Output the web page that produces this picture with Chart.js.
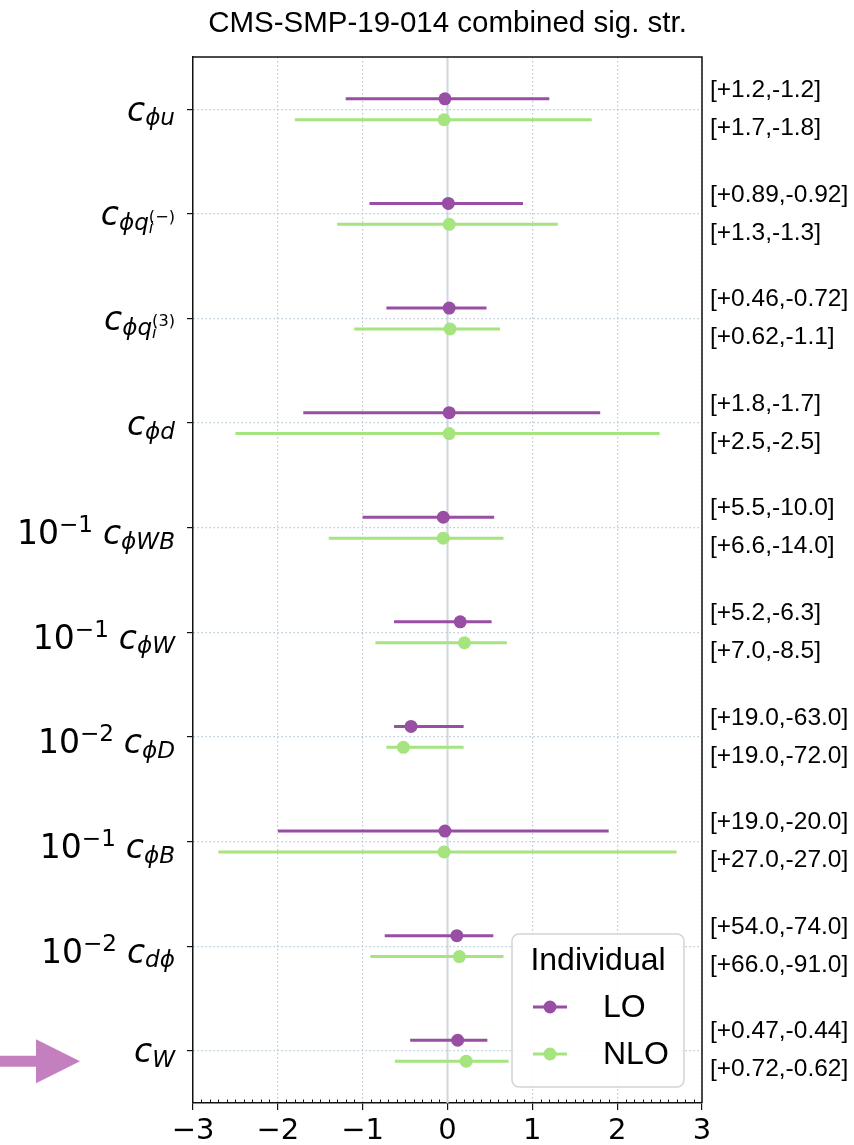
<!DOCTYPE html>
<html>
<head>
<meta charset="utf-8">
<script src="https://cdn.jsdelivr.net/npm/chart.js@4.4.1/dist/chart.umd.min.js"></script>
<style>
  html, body { margin: 0; padding: 0; background: #fff; }
  canvas { display: block; }
</style>
</head>
<body>
<canvas id="chart" width="854" height="1145"></canvas>
<script>
// ---- data -------------------------------------------------------------
const chartTitle = 'CMS-SMP-19-014 combined sig. str.';
const coefficients = ['c_{ϕu}', 'c_{ϕq_i^{(−)}}', 'c_{ϕq_i^{(3)}}', 'c_{ϕd}', 'c_{ϕWB}',
                      'c_{ϕW}', 'c_{ϕD}', 'c_{ϕB}', 'c_{dϕ}', 'c_{W}'];
const powers = [0, 0, 0, 0, -1, -1, -2, -1, -2, 0];
const xTicks = [-3, -2, -1, 0, 1, 2, 3];

const seriesNames = ['LO', 'NLO'];
const loBest  = [-0.03, 0.01, 0.02, 0.02, -0.05, 0.15, -0.43, -0.03, 0.11, 0.12];
const loUp    = [1.2, 0.89, 0.46, 1.8, 5.5, 5.2, 19.0, 19.0, 54.0, 0.47];
const loDown  = [1.2, 0.92, 0.72, 1.7, 10.0, 6.3, 63.0, 20.0, 74.0, 0.44];
const nloBest = [-0.04, 0.02, 0.03, 0.02, -0.05, 0.20, -0.52, -0.04, 0.14, 0.22];
const nloUp   = [1.7, 1.3, 0.62, 2.5, 6.6, 7.0, 19.0, 27.0, 66.0, 0.72];
const nloDown = [1.8, 1.3, 1.1, 2.5, 14.0, 8.5, 72.0, 27.0, 91.0, 0.62];

// ---- styling ----------------------------------------------------------
const series = [
  { name: seriesNames[0], best: loBest,  up: loUp,  down: loDown,  color: '#984ea3', shift: -0.1 },
  { name: seriesNames[1], best: nloBest, up: nloUp, down: nloDown, color: '#a5e47f', shift:  0.1 }
];
const GRID = '#b9c9d3';
const SANS = '"Liberation Sans", Arial, Helvetica, sans-serif';
const MATH = '"DejaVu Sans"';

const rowLabel = i => (powers[i] ? '10^{−' + (-powers[i]) + '} ' : '') + coefficients[i];
const fmtNum = v => Number.isInteger(v) ? v.toFixed(1) : String(v);
const fmtTick = v => v < 0 ? '\u2212' + Math.abs(v) : String(v);

// ---- datasets ---------------------------------------------------------
const datasets = [];
datasets.push({
  type: 'line', data: [{ x: 0, y: -0.5 }, { x: 0, y: coefficients.length - 0.5 }],
  borderColor: '#cdd8e0', borderWidth: 2, pointRadius: 0, order: 20
});
series.forEach(s => {
  coefficients.forEach((_, i) => {
    const f = Math.pow(10, powers[i]);
    datasets.push({
      type: 'line',
      data: [{ x: -s.down[i] * f, y: i + s.shift }, { x: s.up[i] * f, y: i + s.shift }],
      borderColor: s.color, borderWidth: 3, pointRadius: 0, order: 10
    });
  });
});
series.forEach(s => {
  datasets.push({
    type: 'scatter', label: s.name,
    data: s.best.map((b, i) => ({ x: b, y: i + s.shift })),
    backgroundColor: s.color, borderColor: s.color, pointRadius: 6.5, borderWidth: 0, order: 1
  });
});

// ---- tiny mathtext renderer for the row labels -------------------------
function parseMath(str) {
  let i = 0;
  function group() {
    const out = [];
    while (i < str.length && str[i] !== '}') {
      const ch = str[i];
      if (ch === '_' || ch === '^') {
        i++;
        let kids;
        if (str[i] === '{') { i++; kids = group(); i++; }
        else { kids = [{ t: 'ch', s: str[i++] }]; }
        out.push({ t: ch === '_' ? 'sub' : 'sup', kids });
      } else { out.push({ t: 'ch', s: ch }); i++; }
    }
    return out;
  }
  return group();
}
const isLetter = ch => /[A-Za-z\u0370-\u03FF]/.test(ch);
function layoutMath(ctx, nodes, x, y, size, draw, b) {
  let i = 0;
  while (i < nodes.length) {
    const n = nodes[i];
    if (n.t === 'ch') {
      if (n.s === ' ') { x += size * 0.3; i++; continue; }
      ctx.font = (isLetter(n.s) ? 'italic ' : '') + size + 'px ' + MATH;
      const m = ctx.measureText(n.s);
      if (draw) ctx.fillText(n.s, x, y);
      b.top = Math.min(b.top, y - m.actualBoundingBoxAscent);
      b.bottom = Math.max(b.bottom, y + m.actualBoundingBoxDescent);
      x += m.width; i++;
    } else {
      let sub = null, sup = null;
      while (i < nodes.length && (nodes[i].t === 'sub' || nodes[i].t === 'sup')) {
        if (nodes[i].t === 'sub') sub = nodes[i].kids; else sup = nodes[i].kids;
        i++;
      }
      const s2 = size * 0.7;
      let w = 0;
      if (sub) w = Math.max(w, layoutMath(ctx, sub, x, y + size * 0.14, s2, draw, b) - x);
      if (sup) w = Math.max(w, layoutMath(ctx, sup, x, y - size * 0.36, s2, draw, b) - x);
      x += w;
    }
  }
  return x;
}

// ---- plugins ----------------------------------------------------------
const titlePlugin = {
  id: 'plotTitle',
  afterDraw(chart) {
    const ctx = chart.ctx, a = chart.chartArea;
    ctx.save();
    ctx.fillStyle = '#000';
    ctx.font = '29.5px ' + SANS;
    ctx.textAlign = 'center';
    ctx.textBaseline = 'middle';
    ctx.fillText(chartTitle, (a.left + a.right) / 2, 24);
    ctx.restore();
  }
};

const rowLabelsPlugin = {
  id: 'rowLabels',
  afterDraw(chart) {
    const ctx = chart.ctx, ys = chart.scales.y, a = chart.chartArea;
    ctx.save();
    ctx.fillStyle = '#000';
    ctx.textBaseline = 'alphabetic';
    ctx.textAlign = 'left';
    const size = 33, right = a.left - 18;
    coefficients.forEach((_, i) => {
      const nodes = parseMath(rowLabel(i));
      const b = { top: 0, bottom: 0 };
      const w = layoutMath(ctx, nodes, 0, 0, size, false, b);
      const base = ys.getPixelForValue(i) - b.top / 2 + 2;
      layoutMath(ctx, nodes, right - w, base, size, true, { top: 0, bottom: 0 });
    });
    // interval annotations on the right
    ctx.font = '24.5px ' + SANS;
    ctx.textBaseline = 'middle';
    coefficients.forEach((_, i) => {
      const yc = ys.getPixelForValue(i);
      series.forEach((s, k) => {
        ctx.fillText('[+' + fmtNum(s.up[i]) + ',-' + fmtNum(s.down[i]) + ']', a.right + 8, yc + (k ? 19 : -19));
      });
    });
    ctx.restore();
  }
};

const framePlugin = {
  id: 'frame',
  afterDraw(chart) {
    const ctx = chart.ctx, a = chart.chartArea, xs = chart.scales.x;
    ctx.save();
    ctx.strokeStyle = '#111';
    ctx.lineWidth = 1.5;
    ctx.beginPath();
    ctx.moveTo(a.left, a.top); ctx.lineTo(a.right, a.top); ctx.lineTo(a.right, a.bottom);
    ctx.stroke();
    // minor ticks every 0.1, pointing inward
    ctx.lineWidth = 1;
    ctx.beginPath();
    for (let k = -30; k <= 30; k++) {
      if (k % 10 === 0) continue;
      const px = Math.round(xs.getPixelForValue(k / 10)) + 0.5;
      ctx.moveTo(px, a.bottom); ctx.lineTo(px, a.bottom - 3.5);
    }
    ctx.stroke();
    ctx.restore();
  }
};

const legendPlugin = {
  id: 'boxLegend',
  afterDraw(chart) {
    const ctx = chart.ctx, a = chart.chartArea;
    const w = 172, h = 153, r = 7;
    const x0 = a.right - 18 - w, y0 = a.bottom - 16 - h;
    ctx.save();
    ctx.beginPath();
    ctx.moveTo(x0 + r, y0);
    ctx.arcTo(x0 + w, y0, x0 + w, y0 + h, r);
    ctx.arcTo(x0 + w, y0 + h, x0, y0 + h, r);
    ctx.arcTo(x0, y0 + h, x0, y0, r);
    ctx.arcTo(x0, y0, x0 + w, y0, r);
    ctx.closePath();
    ctx.fillStyle = 'rgba(255,255,255,0.85)';
    ctx.fill();
    ctx.strokeStyle = '#d4d4d4';
    ctx.lineWidth = 1.5;
    ctx.stroke();
    ctx.fillStyle = '#000';
    ctx.font = '32px ' + SANS;
    ctx.textBaseline = 'middle';
    ctx.textAlign = 'center';
    ctx.fillText('Individual', x0 + w / 2, y0 + 27);
    ctx.textAlign = 'left';
    series.forEach((s, k) => {
      const yy = y0 + 73 + k * 47;
      ctx.strokeStyle = s.color;
      ctx.lineWidth = 3;
      ctx.beginPath(); ctx.moveTo(x0 + 21, yy); ctx.lineTo(x0 + 55, yy); ctx.stroke();
      ctx.fillStyle = s.color;
      ctx.beginPath(); ctx.arc(x0 + 38, yy, 6.5, 0, Math.PI * 2); ctx.fill();
      ctx.fillStyle = '#000';
      ctx.fillText(s.name, x0 + 91, yy + 1);
    });
    ctx.restore();
  }
};

const pointerPlugin = {
  id: 'pointer',
  afterDraw(chart) {
    const ctx = chart.ctx;
    const y = chart.scales.y.getPixelForValue(coefficients.length - 1 + series[1].shift);
    ctx.save();
    ctx.fillStyle = '#c47fbe';
    ctx.beginPath();
    ctx.moveTo(0, y - 5.5); ctx.lineTo(36, y - 5.5); ctx.lineTo(36, y - 22);
    ctx.lineTo(80, y); ctx.lineTo(36, y + 22); ctx.lineTo(36, y + 5.5); ctx.lineTo(0, y + 5.5);
    ctx.closePath();
    ctx.fill();
    ctx.restore();
  }
};

// ---- chart ------------------------------------------------------------
new Chart(document.getElementById('chart'), {
  type: 'scatter',
  data: { datasets },
  options: {
    responsive: false,
    animation: false,
    events: [],
    layout: { padding: { left: 0, right: 152, top: 57, bottom: 0 } },
    plugins: {
      legend: { display: false },
      tooltip: { enabled: false },
      title: { display: false }
    },
    scales: {
      x: {
        type: 'linear', min: -3, max: 3,
        afterBuildTicks: s => { s.ticks = xTicks.map(v => ({ value: v })); },
        afterFit: s => { s.height = 42; },
        grid: { color: GRID, lineWidth: 1.2, tickLength: 7, tickColor: '#111', tickWidth: 1.2 },
        border: { display: true, color: '#111', width: 1.5, dash: [1.5, 2.5] },
        ticks: {
          callback: v => fmtTick(v), color: '#000', padding: 4, maxRotation: 0, autoSkip: false,
          font: { family: MATH, size: 29 }
        }
      },
      y: {
        type: 'linear', reverse: true, min: -0.5, max: coefficients.length - 0.5,
        afterBuildTicks: s => { s.ticks = coefficients.map((_, i) => ({ value: i })); },
        afterFit: s => { s.width = 193; },
        grid: { color: GRID, lineWidth: 1.2, tickLength: 6, tickColor: '#111', tickWidth: 1.2 },
        border: { display: true, color: '#111', width: 1.5, dash: [1.5, 2.5] },
        ticks: { callback: () => '', padding: 0 }
      }
    }
  },
  plugins: [framePlugin, rowLabelsPlugin, legendPlugin, pointerPlugin, titlePlugin]
});
</script>
</body>
</html>
